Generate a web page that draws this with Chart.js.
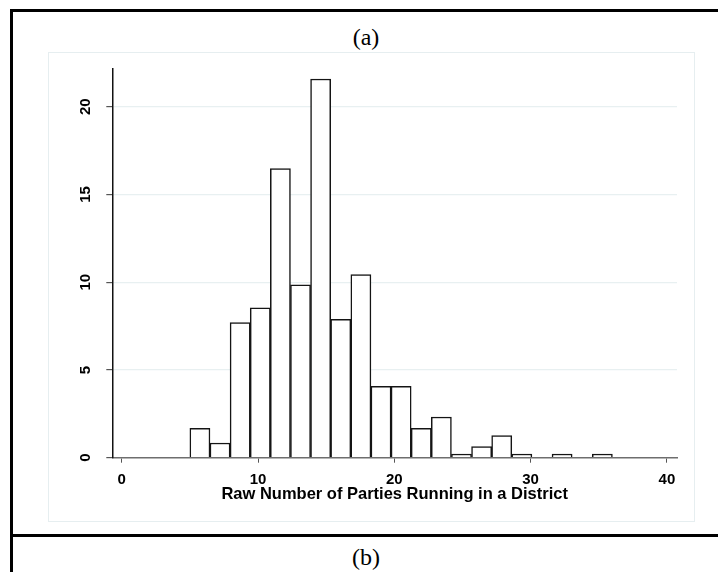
<!DOCTYPE html>
<html>
<head>
<meta charset="utf-8">
<script src="https://cdn.jsdelivr.net/npm/chart.js@4.4.1/dist/chart.umd.min.js"></script>
<style>
  body { margin: 0; background: #fff; }
  #page { position: relative; width: 718px; height: 572px; overflow: hidden; background: #fff; }
  .line { position: absolute; background: #000; }
  .label { position: absolute; left: 11px; width: 710px; text-align: center;
           font-family: "Liberation Serif", "Times New Roman", serif; font-size: 24px; line-height: 1; color: #000; }
  #box { position: absolute; left: 48px; top: 52px; width: 647px; height: 470px;
         border: 1px solid #e6eef0; box-sizing: border-box; }
  #box canvas { display: block; }
</style>
</head>
<body>
<div id="page">
  <div class="line" style="left:10px; top:9px; width:720px; height:3px;"></div>
  <div class="line" style="left:10px; top:9px; width:3px; height:570px;"></div>
  <div class="line" style="left:10px; top:534px; width:720px; height:3px;"></div>
  <div class="label" style="top:25px;">(a)</div>
  <div class="label" style="top:545px;">(b)</div>
  <div id="box"><canvas id="hist" width="645" height="468"></canvas></div>
</div>
<script>
// histogram bins: centre of each bin (bins run 5 to 36, 21 of them)
var binCenters = [5.738, 7.214, 8.690, 10.167, 11.643, 13.119, 14.595, 16.071, 17.548, 19.024,
                  20.500, 21.976, 23.452, 24.929, 26.405, 27.881, 29.357, 30.833, 32.310, 33.786, 35.262]
// percent of districts in each bin
var percents = [1.68, 0.84, 7.70, 8.54, 16.48, 9.85, 21.58, 7.89, 10.44, 4.06,
                4.06, 1.68, 2.32, 0.21, 0.63, 1.26, 0.21, 0, 0.21, 0, 0.21]
var xTicks = [0, 10, 20, 30, 40]
var yTicks = [0, 5, 10, 15, 20]
var xTitle = "Raw Number of Parties Running in a District"

var tickFont = { family: "'Liberation Sans', Arial, sans-serif", weight: "bold" }

new Chart(document.getElementById("hist"), {
  type: "bar",
  data: {
    datasets: [{
      data: binCenters.map(function(x, i) { return { x: x, y: percents[i] } }),
      backgroundColor: "#ffffff",
      borderColor: "#141414",
      borderWidth: 1.5,
      barPercentage: 1,
      categoryPercentage: 1,
    }],
  },
  options: {
    responsive: false,
    animation: false,
    layout: { padding: { top: 16, right: 17, left: 0, bottom: 0 } },
    plugins: { legend: { display: false }, tooltip: { enabled: false } },
    scales: {
      x: {
        type: "linear",
        offset: false,
        min: -0.69,
        max: 40.74,
        afterBuildTicks: function(s) { s.ticks = xTicks.map(function(v) { return { value: v } }) },
        afterFit: function(s) { s.height = 63.3; s.paddingLeft = 0; s.paddingRight = 0 },
        border: { color: "#6e6e6e", width: 1.5 },
        grid: { offset: false, drawOnChartArea: false, tickLength: 5, tickColor: "#555" },
        ticks: { color: "#000", padding: 8, maxRotation: 0, font: Object.assign({ size: 15 }, tickFont) },
        title: {
          display: true,
          text: xTitle,
          color: "#000",
          padding: { top: 0, bottom: 17 },
          font: Object.assign({ size: 16.5 }, tickFont),
        },
      },
      y: {
        min: 0,
        max: 22.15,
        afterBuildTicks: function(s) { s.ticks = yTicks.map(function(v) { return { value: v } }) },
        afterFit: function(s) { s.width = 63.3; s.paddingTop = 0; s.paddingBottom = 0 },
        border: { color: "#111", width: 1.5 },
        grid: {
          color: function(c) { return c.tick && c.tick.value === 0 ? "rgba(0,0,0,0)" : "#e8f0f1" },
          tickColor: "#555",
          tickLength: 6,
          lineWidth: 1.2,
        },
        ticks: {
          color: "#000",
          minRotation: 90,
          maxRotation: 90,
          crossAlign: "center",
          padding: 12,
          font: Object.assign({ size: 15 }, tickFont),
        },
      },
    },
  },
})
</script>
</body>
</html>
